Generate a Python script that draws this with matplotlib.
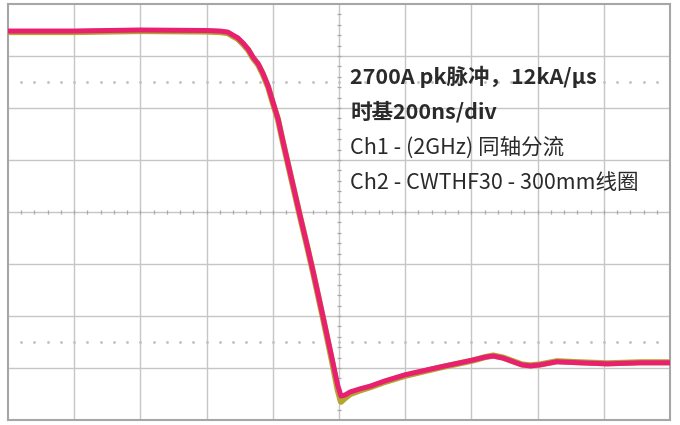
import matplotlib
matplotlib.use("Agg")
import matplotlib.pyplot as plt
import numpy as np

plt.rcParams['font.family'] = ['Noto Sans CJK SC', 'DejaVu Sans']

# time in divisions (200 ns/div), amplitude in divisions from screen centre
t_div = [0.0, 1.0, 2.0, 3.0, 3.20, 3.32, 3.40, 3.47, 3.55, 3.63, 3.70, 3.78,
         3.85, 3.93, 4.00, 4.08, 4.15, 4.26, 4.41, 4.52, 4.61, 4.76, 4.89,
         4.98, 5.03, 5.09, 5.17, 5.32, 5.47, 5.69, 6.00, 6.53, 7.01, 7.21,
         7.33, 7.48, 7.63, 7.76, 7.89, 8.04, 8.29, 8.64, 9.05, 9.55, 10.0]
ch2_div = [3.48, 3.48, 3.50, 3.49, 3.48, 3.46, 3.40, 3.35, 3.25, 3.13, 2.98,
           2.85, 2.67, 2.42, 2.12, 1.79, 1.38, 0.77, -0.06, -0.65, -1.15,
           -2.02, -2.79, -3.33, -3.54, -3.52, -3.46, -3.40, -3.35, -3.25,
           -3.13, -2.98, -2.85, -2.79, -2.77, -2.81, -2.88, -2.94, -2.96,
           -2.94, -2.88, -2.90, -2.92, -2.90, -2.90]
ch1_div = [3.46, 3.46, 3.48, 3.47, 3.46, 3.44, 3.38, 3.33, 3.23, 3.11, 2.96,
           2.83, 2.65, 2.40, 2.10, 1.77, 1.36, 0.75, -0.08, -0.67, -1.17,
           -2.05, -2.84, -3.42, -3.65, -3.58, -3.50, -3.43, -3.37, -3.27,
           -3.15, -2.99, -2.86, -2.79, -2.76, -2.80, -2.87, -2.93, -2.95,
           -2.93, -2.87, -2.89, -2.91, -2.89, -2.89]

notes = ["2700A pk脉冲，12kA/µs", "时基200ns/div",
         "Ch1 - (2GHz) 同轴分流", "Ch2 - CWTHF30 - 300mm线圈"]
note_bold = [True, True, False, False]

fig = plt.figure(figsize=(6.8, 4.25), dpi=100)
ax = fig.add_axes([8 / 680, 5 / 425, 662 / 680, 416 / 425])
ax.set_xlim(0, 10)
ax.set_ylim(-4, 4)

grid_c = '#c6c6c6'
for x in range(1, 10):
    ax.axvline(x, color=grid_c, lw=1.0, zorder=1)
for y in range(-3, 4):
    ax.axhline(y, color=grid_c, lw=1.0, zorder=1)

# minor ticks on the centre cross and dotted rows
minor_x = np.arange(0.2, 10, 0.2)
minor_y = np.arange(-3.8, 4, 0.2)
ax.plot(minor_x, np.zeros_like(minor_x), ls='none', marker='|', ms=3.5,
        color='#a8a8a8', mew=0.9, zorder=2)
ax.plot(np.full_like(minor_y, 5.0), minor_y, ls='none', marker='_', ms=3.5,
        color='#a8a8a8', mew=0.9, zorder=2)
for yd in (2.5, -2.5):
    ax.plot(minor_x, np.full_like(minor_x, yd), ls='none', marker='.', ms=2,
            color='#c0c0c0', zorder=2)

ax.plot(t_div, ch1_div, color='#b3a531', lw=4.4, zorder=3,
        solid_joinstyle='round')
ax.plot(t_div, ch2_div, color='#e8206f', lw=3.6, zorder=4,
        solid_joinstyle='round')

y_text = [2.60, 1.92, 1.23, 0.56]
for s, yy, b in zip(notes, y_text, note_bold):
    ax.text(5.17, yy, s, fontsize=15.5, va='center', ha='left',
            color='#2a2a2a', fontweight='bold' if b else 'normal', zorder=5)

ax.set_xticks([])
ax.set_yticks([])
for sp in ax.spines.values():
    sp.set_color('#a6a6a6')
    sp.set_linewidth(1.5)

fig.savefig('out.png', dpi=100)
